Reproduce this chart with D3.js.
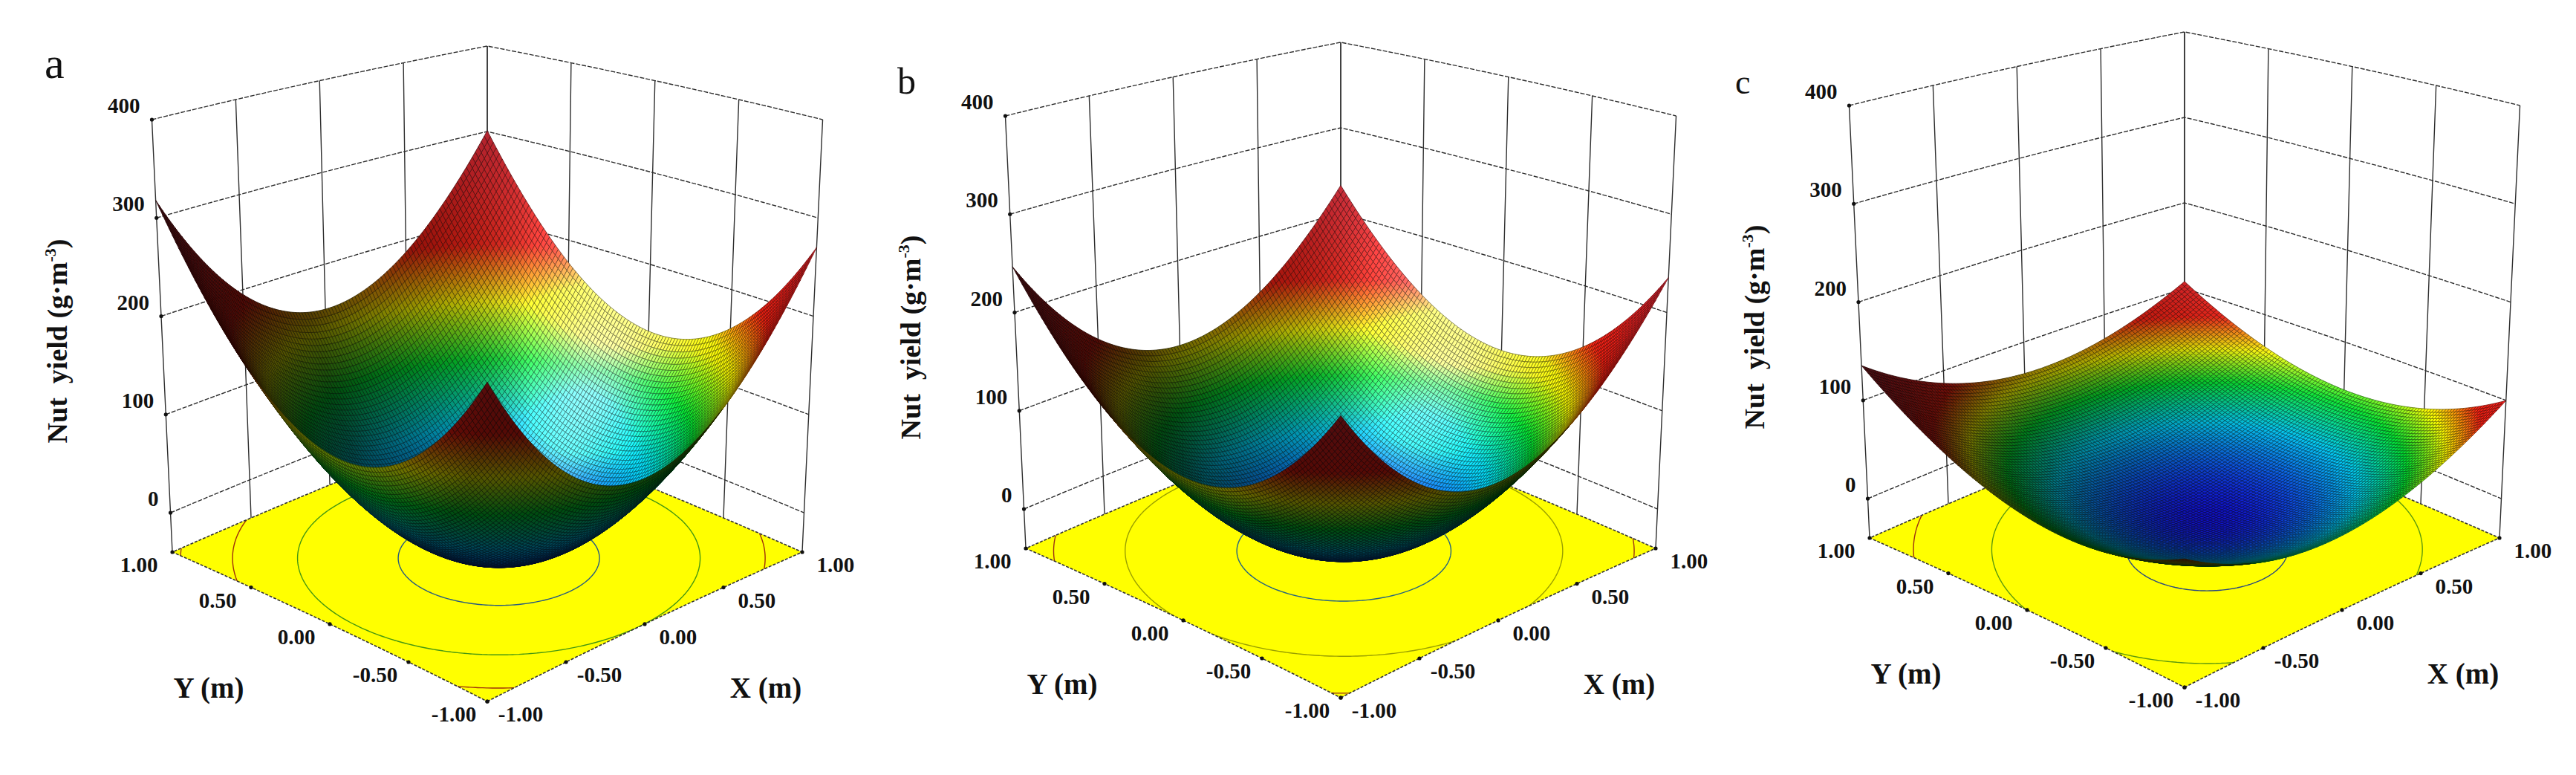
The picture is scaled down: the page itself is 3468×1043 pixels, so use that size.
<!DOCTYPE html>
<html>
<head>
<meta charset="utf-8">
<script src="https://cdn.jsdelivr.net/npm/d3@7"></script>
<style>
  body { margin: 0; background: #fff; }
  svg { display: block; }
  text { font-family: "Liberation Serif", "Times New Roman", serif; fill: #111; }
</style>
</head>
<body>
<div id="chart"></div>
<script>
// ---- data ----
var panelIds = ['a', 'b', 'c'];
// quadratic response surface per panel: z = b0 + b1*X + b2*Y + b12*X*Y + b11*X^2 + b22*Y^2
var coefConst = [-32.3, -31.4, -6.9];
var coefX = [1.4, 1.9, -0.8];
var coefY = [25.4, 7.4, 17.0];
var coefXY = [-9.9, -8.9, -12.9];
var coefXX = [158.2, 131.8, 55.8];
var coefYY = [158.2, 131.8, 55.8];
var contourLevels = [[0, 100, 200, 300], [0, 100, 200], [0, 50, 100]];
var zTicks = [0, 100, 200, 300, 400];
var xyTicks = [-1, -0.5, 0, 0.5, 1];
var zRange = [-40, 400];
var zTitle = 'Nut  yield (g\u00b7m';
var zTitleSup = '-3';
var xTitle = 'X (m)';
var yTitle = 'Y (m)';

// ---- layout ----
var svgWidth = 3468;
var svgHeight = 1043;
var layout = [
  { cx: 656, cy: 743, lx: 60, ly: 105, lsize: 60 },
  { cx: 1805, cy: 738, lx: 1208, ly: 126, lsize: 50 },
  { cx: 2941, cy: 724, lx: 2336, ly: 126, lsize: 46 }
];

// projection constants (a mild perspective box seen from the (-1,-1) corner)
var floorDepth = 132.3, floorSkew = 0.0489;
var boxHeight = 582, heightSkew = 0.0923;
var halfWidth = 299.8, spread = 0.065;
var hScale = d3.scaleLinear().domain(zRange).range([0, 1]);

// pseudo 3d world for shading / painter ordering
var elev = 25 * Math.PI / 180;
var sinV = Math.sin(elev), cosV = Math.cos(elev);
var wPerH = 2.1;

// colour ramp like Design-Expert: blue - cyan - green - yellow - red
var rampStops = [0, 0.19, 0.34, 0.48, 0.63, 1];
var rampColors = ['#1515ff', '#00d2ff', '#00e62e', '#ffff00', '#ff1e10', '#f0283c'];

var gridN = 110;
var contourN = 121;

function surfaceModel(i) {
  return function(X, Y) {
    return coefConst[i] + coefX[i] * X + coefY[i] * Y + coefXY[i] * X * Y +
      coefXX[i] * X * X + coefYY[i] * Y * Y;
  };
}

function projector(cx, cy) {
  return function(X, Y, z) {
    var u = (X - Y) / Math.SQRT2, v = (X + Y) / Math.SQRT2, h = hScale(z);
    return [cx + halfWidth * u * (1 + spread * h),
            cy - floorDepth * v / (1 + floorSkew * v) - boxHeight * (1 - heightSkew * v) * h];
  };
}

function toWorld(X, Y, z) {
  return [(X - Y) / Math.SQRT2, (X + Y) / Math.SQRT2, hScale(z) * wPerH];
}

function norm(a) {
  var l = Math.sqrt(a[0] * a[0] + a[1] * a[1] + a[2] * a[2]) || 1;
  return [a[0] / l, a[1] / l, a[2] / l];
}
function dot(a, b) { return a[0] * b[0] + a[1] * b[1] + a[2] * b[2]; }

// light comes from upper left, a little in front
var lightDir = norm([-0.7, -0.3, 0.6]);
var viewDir = [0, -cosV, sinV];
var halfDir = norm([lightDir[0] + viewDir[0], lightDir[1] + viewDir[1], lightDir[2] + viewDir[2]]);

function shadeColor(base, n) {
  n = norm(n);
  if (dot(n, viewDir) < 0) n = [-n[0], -n[1], -n[2]];
  var diff = Math.max(0, dot(n, lightDir));
  var spec = Math.pow(Math.max(0, dot(n, halfDir)), 18);
  var k = 0.33 + 0.72 * diff;
  var c = d3.rgb(base);
  return d3.rgb(Math.min(255, c.r * k + 150 * spec),
                Math.min(255, c.g * k + 130 * spec),
                Math.min(255, c.b * k + 140 * spec));
}

// sample a straight 3d segment so the slightly curved projection is followed
function segment(proj, a, b, steps) {
  steps = steps || 24;
  return d3.range(steps + 1).map(function(k) {
    var t = k / steps;
    return proj(a[0] + (b[0] - a[0]) * t, a[1] + (b[1] - a[1]) * t, a[2] + (b[2] - a[2]) * t);
  });
}

var line = d3.line();
var fmtXY = function(d) { return d3.format('.2f')(d).replace('\u2212', '-'); };
var fmtZ = d3.format('d');

var svg = d3.select('#chart')
  .append('svg')
  .attr('width', svgWidth)
  .attr('height', svgHeight);

svg.append('rect').attr('width', svgWidth).attr('height', svgHeight).attr('fill', '#fff');

panelIds.forEach(function(id, i) {
  var L = layout[i];
  var proj = projector(L.cx, L.cy);
  var f = surfaceModel(i);
  var zLo = zRange[0], zHi = zRange[1];
  var g = svg.append('g').attr('class', 'panel-' + id);

  // ---- back walls ----
  var walls = g.append('g').attr('class', 'walls');
  zTicks.forEach(function(z) {
    walls.append('path')
      .attr('d', line(segment(proj, [-1, 1, z], [1, 1, z]).concat(segment(proj, [1, 1, z], [1, -1, z]))))
      .attr('fill', 'none').attr('stroke', '#2e2e2e').attr('stroke-width', 1.4)
      .attr('stroke-dasharray', '6,2');
  });
  xyTicks.forEach(function(t) {
    walls.append('path')
      .attr('d', line(segment(proj, [t, 1, zLo], [t, 1, zHi], 8)))
      .attr('fill', 'none').attr('stroke', '#2e2e2e').attr('stroke-width', 1.4);
    walls.append('path')
      .attr('d', line(segment(proj, [1, t, zLo], [1, t, zHi], 8)))
      .attr('fill', 'none').attr('stroke', '#2e2e2e').attr('stroke-width', 1.4);
  });

  // ---- floor with contour lines ----
  var floorPts = segment(proj, [-1, -1, zLo], [1, -1, zLo])
    .concat(segment(proj, [1, -1, zLo], [1, 1, zLo]))
    .concat(segment(proj, [1, 1, zLo], [-1, 1, zLo]))
    .concat(segment(proj, [-1, 1, zLo], [-1, -1, zLo]));
  var floorD = line(floorPts) + 'Z';
  g.append('clipPath').attr('id', 'floor-' + id)
    .append('path').attr('d', floorD);
  g.append('path').attr('d', floorD).attr('fill', '#ffff00').attr('stroke', 'none');

  var zVals = [];
  for (var gy = 0; gy < contourN; gy++) {
    for (var gx = 0; gx < contourN; gx++) {
      zVals.push(f(-1 + 2 * gx / (contourN - 1), -1 + 2 * gy / (contourN - 1)));
    }
  }
  var zMin = d3.min(zVals), zMax = d3.max(zVals);
  var colorScale = d3.scaleLinear()
    .domain(rampStops.map(function(t) { return zMin + t * (zMax - zMin); }))
    .range(rampColors)
    .interpolate(d3.interpolateRgb)
    .clamp(true);

  var contours = d3.contours().size([contourN, contourN]).thresholds(contourLevels[i])(zVals);
  var contourG = g.append('g').attr('clip-path', 'url(#floor-' + id + ')');
  var gridToXY = function(c) { return -1 + (c - 0.5) * 2 / (contourN - 1); };
  contours.forEach(function(ct) {
    var col = d3.interpolateRgb(colorScale(ct.value), '#404000')(0.5);
    ct.coordinates.forEach(function(poly) {
      poly.forEach(function(ring) {
        contourG.append('path')
          .attr('d', line(ring.map(function(p) { return proj(gridToXY(p[0]), gridToXY(p[1]), zLo); })))
          .attr('fill', 'none').attr('stroke', col).attr('stroke-width', 1.4);
      });
    });
  });

  g.append('path').attr('d', floorD).attr('fill', 'none')
    .attr('stroke', '#333').attr('stroke-width', 1.6).attr('stroke-dasharray', '4,2');

  // ---- tick dots on the axes ----
  zTicks.forEach(function(z) {
    var p = proj(-1, 1, z);
    g.append('circle').attr('cx', p[0]).attr('cy', p[1]).attr('r', 2.6).attr('fill', '#111');
  });
  xyTicks.forEach(function(t) {
    var p = proj(-1, t, zLo), q = proj(t, -1, zLo);
    g.append('circle').attr('cx', p[0]).attr('cy', p[1]).attr('r', 2.6).attr('fill', '#111');
    g.append('circle').attr('cx', q[0]).attr('cy', q[1]).attr('r', 2.6).attr('fill', '#111');
  });

  // ---- surface mesh ----
  var xs = d3.range(gridN + 1).map(function(k) { return -1 + 2 * k / gridN; });
  var nodes = xs.map(function(X) {
    return xs.map(function(Y) {
      var z = f(X, Y);
      return { z: z, s: proj(X, Y, z), w: toWorld(X, Y, z) };
    });
  });
  var quads = [];
  for (var a = 0; a < gridN; a++) {
    for (var b = 0; b < gridN; b++) {
      var p00 = nodes[a][b], p10 = nodes[a + 1][b], p11 = nodes[a + 1][b + 1], p01 = nodes[a][b + 1];
      var d1 = [p11.w[0] - p00.w[0], p11.w[1] - p00.w[1], p11.w[2] - p00.w[2]];
      var d2 = [p01.w[0] - p10.w[0], p01.w[1] - p10.w[1], p01.w[2] - p10.w[2]];
      var n = [d1[1] * d2[2] - d1[2] * d2[1], d1[2] * d2[0] - d1[0] * d2[2], d1[0] * d2[1] - d1[1] * d2[0]];
      var cv = (p00.w[1] + p10.w[1] + p11.w[1] + p01.w[1]) / 4;
      var cw = (p00.w[2] + p10.w[2] + p11.w[2] + p01.w[2]) / 4;
      var zc = (p00.z + p10.z + p11.z + p01.z) / 4;
      var fill = shadeColor(colorScale(zc), n);
      quads.push({
        depth: cv * cosV - cw * sinV,
        pts: [p00.s, p10.s, p11.s, p01.s],
        fill: fill.formatHex(),
        stroke: fill.darker(2.2).formatHex()
      });
    }
  }
  quads.sort(function(q1, q2) { return q2.depth - q1.depth; });
  g.append('g').attr('class', 'surface')
    .selectAll('path')
    .data(quads)
    .enter()
    .append('path')
    .attr('d', function(d) { return line(d.pts) + 'Z'; })
    .attr('fill', function(d) { return d.fill; })
    .attr('stroke', function(d) { return d.stroke; })
    .attr('stroke-width', 0.8)
    .attr('stroke-linejoin', 'round');

  // ---- tick labels ----
  zTicks.forEach(function(z) {
    var p = proj(-1, 1, z);
    g.append('text').attr('x', p[0] - 16).attr('y', p[1] - 9)
      .attr('text-anchor', 'end').attr('font-size', 29).attr('font-weight', 'bold')
      .text(fmtZ(z));
  });
  xyTicks.forEach(function(t) {
    var p = proj(-1, t, zLo);
    g.append('text').attr('x', p[0] - 45).attr('y', p[1] + 27)
      .attr('text-anchor', 'middle').attr('font-size', 29).attr('font-weight', 'bold')
      .text(fmtXY(t));
    var q = proj(t, -1, zLo);
    g.append('text').attr('x', q[0] + 45).attr('y', q[1] + 27)
      .attr('text-anchor', 'middle').attr('font-size', 29).attr('font-weight', 'bold')
      .text(fmtXY(t));
  });

  // ---- axis titles ----
  g.append('text').attr('x', L.cx - 375).attr('y', L.cy + 196)
    .attr('text-anchor', 'middle').attr('font-size', 39).attr('font-weight', 'bold')
    .text(yTitle);
  g.append('text').attr('x', L.cx + 375).attr('y', L.cy + 196)
    .attr('text-anchor', 'middle').attr('font-size', 39).attr('font-weight', 'bold')
    .text(xTitle);

  var zt = g.append('text')
    .attr('transform', 'translate(' + (L.cx - 566) + ',' + (L.cy - 284) + ') rotate(-90)')
    .attr('text-anchor', 'middle').attr('font-size', 38).attr('font-weight', 'bold')
    .style('white-space', 'pre');
  zt.append('tspan').text(zTitle);
  zt.append('tspan').attr('dy', -15).attr('font-size', 22).text(zTitleSup);
  zt.append('tspan').attr('dy', 15).text(')');

  // ---- panel letter ----
  g.append('text').attr('x', L.lx).attr('y', L.ly)
    .attr('font-size', L.lsize)
    .text(id);
});
</script>
</body>
</html>
